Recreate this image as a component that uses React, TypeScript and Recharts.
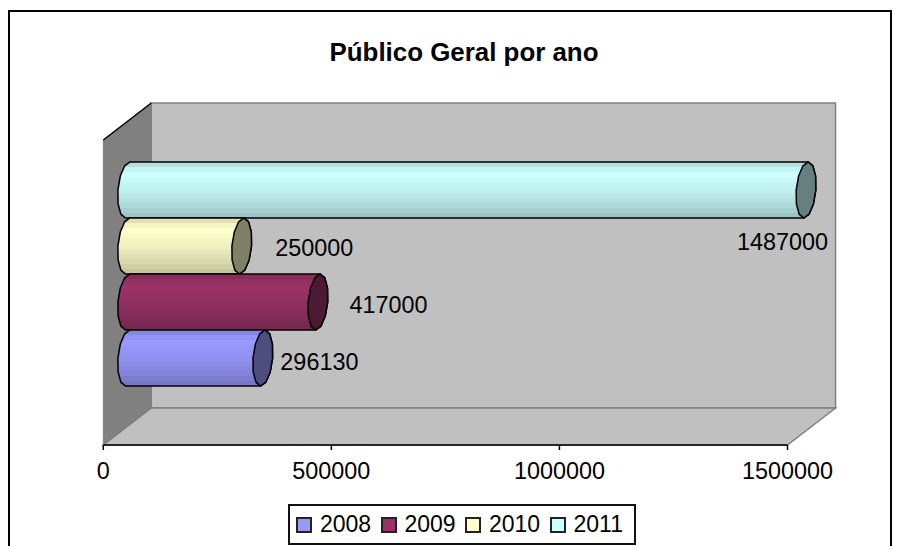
import { BarChart, Bar, XAxis, YAxis, Legend, LabelList, usePlotArea } from 'recharts'

const years = ['2008', '2009', '2010', '2011']
const values = [296130, 417000, 250000, 1487000]
const colors = ['#9999ff', '#993366', '#ffffcc', '#ccffff']
const xTicks = [0, 500000, 1000000, 1500000]
const category = ['Público Geral']
const chartTitle = 'Público Geral por ano'

const chartData = category.map(name => {
  const row: Record<string, string | number> = { name }
  years.forEach((y, i) => {
    row[y] = values[i]
  })
  return row
})

const FONT = '"Liberation Sans", Arial, sans-serif'
const DEPTH_X = 48
const DEPTH_Y = 37
const BAR_DX = 24.4
const BAR_DY = 18.5

// where Excel happened to leave each data label, relative to the bar's front end
const labelOffsets: Record<string, { dx: number; dy: number; anchor: string }> = {
  '2008': { dx: 42, dy: 13, anchor: 'start' },
  '2009': { dx: 56, dy: 12, anchor: 'start' },
  '2010': { dx: 58, dy: 11, anchor: 'start' },
  '2011': { dx: 1, dy: 61, anchor: 'middle' },
}

// shading of the banded cylinder, top to bottom
const bands = [0.88, 0.96, 1, 0.98, 0.96, 0.94, 0.91, 0.88, 0.85, 0.81, 0.77]

function shade(hex: string, f: number) {
  const n = parseInt(hex.slice(1), 16)
  const c = [(n >> 16) & 255, (n >> 8) & 255, n & 255].map(v => Math.round(v * f))
  return `rgb(${c[0]},${c[1]},${c[2]})`
}

function facet(cx: number, cy: number, ry: number, from: number, to: number, steps: number) {
  const rx = 9.8
  const tilt = 2.2
  const pts: string[] = []
  for (let i = 0; i <= steps; i++) {
    const t = from + ((to - from) * i) / steps
    pts.push(`${(cx + rx * Math.cos(t) - tilt * Math.sin(t)).toFixed(1)},${(cy + ry * Math.sin(t)).toFixed(1)}`)
  }
  return pts
}

function Cylinder(props: any) {
  const { x, y, width, height, fill, index, tooltipPayload } = props
  const year = props.dataKey ?? tooltipPayload?.[0]?.dataKey
  const cx0 = x + BAR_DX
  const cx1 = x + width + BAR_DX
  const top = y - BAR_DY
  const cy = top + height / 2
  const ry = height / 2
  const left = facet(cx0, cy, ry, Math.PI / 2, (3 * Math.PI) / 2, 6)
  const right = facet(cx1, cy, ry, -Math.PI / 2, Math.PI / 2, 6)
  const cap = facet(cx1, cy, ry, 0, Math.PI * 2, 12)
  return (
    <g key={index}>
      <polygon points={[...left, ...right].join(' ')} fill={`url(#band-${year})`} stroke="#000" strokeWidth={1.5} />
      <polygon points={cap.join(' ')} fill={shade(fill, 0.5)} stroke="#000" strokeWidth={1.5} />
    </g>
  )
}

function Walls() {
  const plot = usePlotArea()
  if (!plot) return null
  const { x, y, width, height } = plot
  const b = y + height
  const r = x + width
  return (
    <g>
      <polygon
        points={`${x + DEPTH_X},${y - DEPTH_Y} ${r + DEPTH_X},${y - DEPTH_Y} ${r + DEPTH_X},${b - DEPTH_Y} ${x + DEPTH_X},${b - DEPTH_Y}`}
        fill="#c0c0c0"
        stroke="#808080"
        strokeWidth={1.5}
      />
      <polygon
        points={`${x},${b} ${x + DEPTH_X},${b - DEPTH_Y} ${r + DEPTH_X},${b - DEPTH_Y} ${r},${b}`}
        fill="#c0c0c0"
        stroke="#808080"
        strokeWidth={1.5}
      />
      <polygon
        points={`${x},${y} ${x + DEPTH_X},${y - DEPTH_Y} ${x + DEPTH_X},${b - DEPTH_Y} ${x},${b}`}
        fill="#808080"
        stroke="#808080"
      />
      <line x1={x} y1={y} x2={x + DEPTH_X} y2={y - DEPTH_Y} stroke="#000" strokeWidth={1.5} />
    </g>
  )
}

function BarLabel(props: any) {
  const { x, y, width, value, year } = props
  const o = labelOffsets[year]
  return (
    <text
      x={x + width + o.dx}
      y={y + o.dy}
      textAnchor={o.anchor as any}
      dominantBaseline="central"
      fontFamily={FONT}
      fontSize={23.4}
      fill="#000"
    >
      {value}
    </text>
  )
}

function LegendBox() {
  return (
    <div
      style={{
        boxSizing: 'border-box',
        width: 348,
        height: 41,
        border: '2px solid #111',
        background: '#fff',
        display: 'flex',
        alignItems: 'center',
        paddingLeft: 6,
        fontFamily: FONT,
        fontSize: 23,
        color: '#000',
      }}
    >
      {years.map((y, i) => (
        <span key={y} style={{ display: 'flex', alignItems: 'center', width: 85 }}>
          <span
            style={{
              boxSizing: 'border-box',
              width: 16,
              height: 16,
              border: '2px solid #222',
              background: colors[i],
              marginRight: 8,
            }}
          />
          {y}
        </span>
      ))}
    </div>
  )
}

export default function App() {
  const order = years.map((_, i) => i).reverse()
  return (
    <div style={{ position: 'absolute', left: 0, top: 0, width: 902, height: 546, overflow: 'hidden', background: '#fff' }}>
      <BarChart
        width={902}
        height={546}
        data={chartData}
        layout="vertical"
        barGap={0}
        barCategoryGap={40.5}
        margin={{ top: 140, right: 114.5, bottom: 30, left: 103.3 }}
      >
        <rect x={9} y={11} width={882} height={600} fill="#fff" stroke="#000" strokeWidth={2} />
        <text x={464} y={52} textAnchor="middle" dominantBaseline="central" fontFamily={FONT} fontSize={25.9} fontWeight="bold" fill="#000">
          {chartTitle}
        </text>
        <Walls />
        <defs>
          {years.map((y, i) => (
            <linearGradient key={y} id={`band-${y}`} x1="0" y1="0" x2="0" y2="1">
              {bands.flatMap((f, k) => [
                <stop key={`${k}a`} offset={k / bands.length} stopColor={shade(colors[i], f)} />,
                <stop key={`${k}b`} offset={(k + 1) / bands.length} stopColor={shade(colors[i], f)} />,
              ])}
            </linearGradient>
          ))}
        </defs>
        <XAxis
          type="number"
          domain={[0, 1500000]}
          ticks={xTicks}
          height={30}
          interval={0}
          tickSize={5}
          tickMargin={12}
          stroke="#000"
          axisLine={{ stroke: '#000', strokeWidth: 1.5 }}
          tickLine={{ stroke: '#000', strokeWidth: 1.5 }}
          tick={{ fontFamily: FONT, fontSize: 23.4, fill: '#000' }}
        />
        <YAxis
          type="category"
          dataKey="name"
          width={0}
          tick={false}
          tickLine={false}
          axisLine={{ stroke: '#000', strokeWidth: 1.5 }}
        />
        <Legend
          height={41}
          content={<LegendBox />}
          wrapperStyle={{ left: 288, top: 504, width: 348, height: 41, bottom: 'auto' }}
        />
        {order.map(i => (
          <Bar
            key={years[i]}
            dataKey={years[i]}
            fill={colors[i]}
            isAnimationActive={false}
            shape={<Cylinder />}
          >
            <LabelList dataKey={years[i]} content={<BarLabel year={years[i]} />} />
          </Bar>
        ))}
      </BarChart>
    </div>
  )
}
